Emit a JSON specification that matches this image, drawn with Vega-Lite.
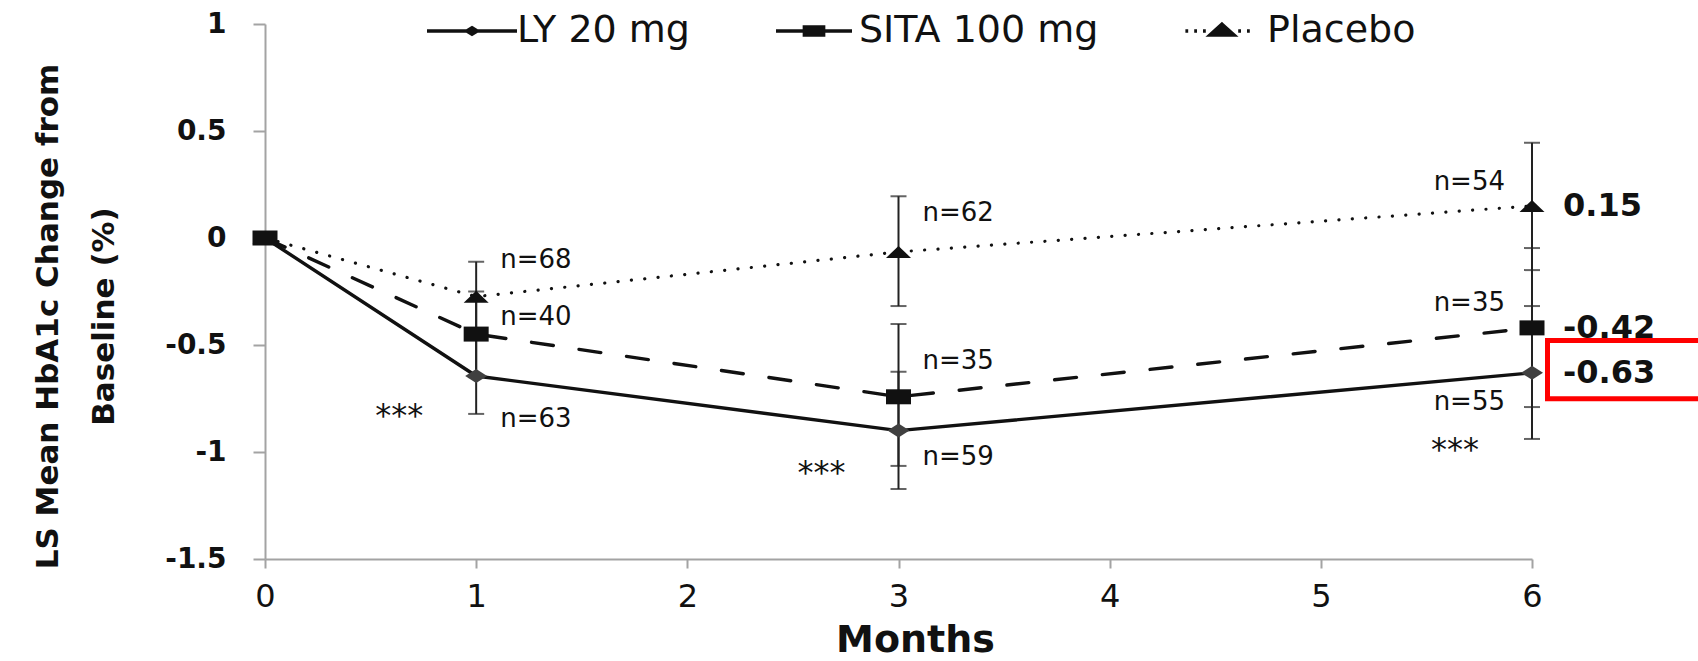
{
  "$schema": "https://vega.github.io/schema/vega-lite/v6.json",
  "autosize": "none",
  "width": 1267,
  "height": 535,
  "padding": {"left": 265, "top": 24, "right": 166, "bottom": 102},
  "background": "white",
  "datasets": {
    "main": [
      {"series": "LY 20 mg", "month": 0, "mean": 0, "lo": null, "hi": null},
      {"series": "LY 20 mg", "month": 1, "mean": -0.645, "lo": -0.822, "hi": -0.47},
      {"series": "LY 20 mg", "month": 3, "mean": -0.9, "lo": -1.173, "hi": -0.625},
      {"series": "LY 20 mg", "month": 6, "mean": -0.63, "lo": -0.939, "hi": -0.318},
      {"series": "Placebo", "month": 0, "mean": 0, "lo": null, "hi": null},
      {"series": "Placebo", "month": 1, "mean": -0.274, "lo": -0.44, "hi": -0.111},
      {"series": "Placebo", "month": 3, "mean": -0.065, "lo": -0.318, "hi": 0.195},
      {"series": "Placebo", "month": 6, "mean": 0.15, "lo": -0.15, "hi": 0.445},
      {"series": "SITA 100 mg", "month": 0, "mean": 0, "lo": null, "hi": null},
      {"series": "SITA 100 mg", "month": 1, "mean": -0.449, "lo": -0.65, "hi": -0.25},
      {"series": "SITA 100 mg", "month": 3, "mean": -0.742, "lo": -1.065, "hi": -0.402},
      {"series": "SITA 100 mg", "month": 6, "mean": -0.42, "lo": -0.79, "hi": -0.047}
    ],
    "notes": [
      {"month": 1, "ly": -0.103, "label": "n=68"},
      {"month": 1, "ly": -0.369, "label": "n=40"},
      {"month": 1, "ly": -0.845, "label": "n=63"},
      {"month": 3, "ly": 0.117, "label": "n=62"},
      {"month": 3, "ly": -0.575, "label": "n=35"},
      {"month": 3, "ly": -1.022, "label": "n=59"},
      {"month": 6, "ly": 0.263, "label": "n=54"},
      {"month": 6, "ly": -0.304, "label": "n=35"},
      {"month": 6, "ly": -0.765, "label": "n=55"}
    ],
    "stars": [
      {"month": 1, "sy": -0.807, "sig": "***"},
      {"month": 3, "sy": -1.075, "sig": "***"},
      {"month": 6, "sy": -0.967, "sig": "***"}
    ]
  },
  "config": {
    "font": "DejaVu Sans",
    "view": {"stroke": null},
    "axis": {
      "grid": false,
      "domainColor": "#a3a3a3",
      "tickColor": "#a3a3a3",
      "domainWidth": 2,
      "tickWidth": 2,
      "labelColor": "#111",
      "titleColor": "#111",
      "labelFont": "DejaVu Sans",
      "titleFont": "DejaVu Sans"
    }
  },
  "encoding": {
    "x": {
      "field": "month", "type": "quantitative",
      "scale": {"domain": [0, 6], "nice": false, "zero": false},
      "axis": {
        "values": [0, 1, 2, 3, 4, 5, 6],
        "title": "Months",
        "labelFontSize": 32,
        "tickSize": 9,
        "labelPadding": 13,
        "labelFlush": false,
        "titleFontSize": 38,
        "titleFontWeight": "bold",
        "titleBaseline": "alphabetic",
        "titleY": 92,
        "titleX": 650
      }
    },
    "y": {
      "type": "quantitative",
      "scale": {"domain": [-1.5, 1], "nice": false, "zero": false},
      "axis": {
        "values": [-1.5, -1, -0.5, 0, 0.5, 1],
        "labelExpr": "'' + datum.value",
        "labelFontSize": 28,
        "labelFontWeight": "bold",
        "tickSize": 12,
        "labelPadding": 27,
        "title": ["LS Mean HbA1c Change from", "Baseline (%)"],
        "titleFontSize": 31,
        "titleFontWeight": "bold",
        "titleX": -232,
        "titleY": 292,
        "titleAlign": "center",
        "titleBaseline": "top",
        "titleLineHeight": 56
      }
    }
  },
  "layer": [
    {
      "data": {"name": "main"},
      "transform": [{"filter": "datum.series === 'LY 20 mg'"}],
      "mark": {"type": "line", "color": "#111", "strokeCap": "round", "strokeWidth": 3.4},
      "encoding": {"y": {"field": "mean", "type": "quantitative"}}
    },
    {
      "data": {"name": "main"},
      "transform": [{"filter": "datum.series === 'SITA 100 mg'"}],
      "mark": {"type": "line", "color": "#111", "strokeCap": "round", "strokeWidth": 3.4, "strokeDash": [22, 26]},
      "encoding": {"y": {"field": "mean", "type": "quantitative"}}
    },
    {
      "data": {"name": "main"},
      "transform": [{"filter": "datum.series === 'Placebo'"}],
      "mark": {"type": "line", "color": "#111", "strokeCap": "round", "strokeWidth": 3.2, "strokeDash": [0.1, 13.3]},
      "encoding": {"y": {"field": "mean", "type": "quantitative"}}
    },
    {
      "data": {"name": "main"},
      "transform": [{"filter": "isValid(datum.lo)"}],
      "mark": {
        "type": "errorbar",
        "ticks": {"size": 16, "thickness": 2, "color": "#222"},
        "rule": {"strokeWidth": 2, "color": "#222"}
      },
      "encoding": {
        "y": {"field": "lo", "type": "quantitative"},
        "y2": {"field": "hi"}
      }
    },
    {
      "data": {"name": "main"},
      "transform": [{"filter": "datum.series === 'LY 20 mg'"}],
      "mark": {"type": "point", "filled": true, "size": 400, "opacity": 1, "strokeWidth": 0, "color": "#404040", "shape": "M0,-0.7L1.1,0L0,0.7L-1.1,0Z"},
      "encoding": {"y": {"field": "mean", "type": "quantitative"}}
    },
    {
      "data": {"name": "main"},
      "transform": [{"filter": "datum.series === 'Placebo'"}],
      "mark": {"type": "point", "filled": true, "size": 400, "opacity": 1, "strokeWidth": 0, "color": "#111", "shape": "M0,-0.6L1.25,0.6L-1.25,0.6Z"},
      "encoding": {"y": {"field": "mean", "type": "quantitative"}}
    },
    {
      "data": {"name": "main"},
      "transform": [{"filter": "datum.series === 'SITA 100 mg'"}],
      "mark": {"type": "point", "filled": true, "size": 400, "opacity": 1, "strokeWidth": 0, "color": "#111", "shape": "M-1.25,-0.75L1.25,-0.75L1.25,0.75L-1.25,0.75Z"},
      "encoding": {"y": {"field": "mean", "type": "quantitative"}}
    },
    {
      "data": {"name": "main"},
      "mark": {"type": "point", "filled": false, "opacity": 0, "color": "#111", "strokeWidth": 3.5},
      "encoding": {
        "y": {"field": "mean", "type": "quantitative"},
        "shape": {
          "field": "series", "type": "nominal",
          "scale": {
            "domain": ["LY 20 mg", "SITA 100 mg", "Placebo"],
            "range": [
              "M-1.125,0L1.125,0M0,-0.08L0.13,0L0,0.08L-0.13,0Z",
              "M-0.95,0L0.95,0M-0.24,-0.1L0.24,-0.1L0.24,0.1L-0.24,0.1ZM-0.24,-0.05L0.24,-0.05M-0.24,0.05L0.24,0.05",
              "M-0.915,0L-0.845,0M-0.695,0L-0.625,0M-0.475,0L-0.405,0M0.405,0L0.475,0M0.625,0L0.695,0M0,-0.17L0.3,0.1L-0.3,0.1ZM-0.22,0.03L0.22,0.03M-0.14,-0.04L0.14,-0.04M-0.07,-0.11L0.07,-0.11"
            ]
          },
          "legend": {
            "title": null,
            "orient": "none",
            "direction": "horizontal",
            "legendX": 165,
            "legendY": -35,
            "padding": 0,
            "symbolSize": 6400,
            "symbolOpacity": 1,
            "symbolStrokeWidth": 3.5,
            "symbolStrokeColor": "#111",
            "labelFontSize": 38,
            "labelFont": "DejaVu Sans",
            "labelColor": "#111",
            "labelOffset": 3,
            "labelLimit": 500,
            "columnPadding": 79
          }
        }
      }
    },
    {
      "data": {"name": "notes"},
      "transform": [{"filter": "datum.month < 6"}],
      "mark": {"type": "text", "align": "left", "baseline": "middle", "dx": 24, "fontSize": 26, "color": "#111", "font": "DejaVu Sans"},
      "encoding": {
        "y": {"field": "ly", "type": "quantitative"},
        "text": {"field": "label"}
      }
    },
    {
      "data": {"name": "notes"},
      "transform": [{"filter": "datum.month == 6"}],
      "mark": {"type": "text", "align": "right", "baseline": "middle", "dx": -27, "fontSize": 26, "color": "#111", "font": "DejaVu Sans"},
      "encoding": {
        "y": {"field": "ly", "type": "quantitative"},
        "text": {"field": "label"}
      }
    },
    {
      "data": {"name": "stars"},
      "mark": {"type": "text", "align": "center", "baseline": "middle", "dx": -77, "dy": 5, "fontSize": 32, "color": "#111", "font": "DejaVu Sans"},
      "encoding": {
        "y": {"field": "sy", "type": "quantitative"},
        "text": {"field": "sig"}
      }
    },
    {
      "data": {"name": "main"},
      "transform": [{"filter": "datum.month == 6"}],
      "mark": {
        "type": "text", "align": "left", "baseline": "middle", "dx": 31,
        "fontSize": 32, "fontWeight": "bold", "color": "#111", "font": "DejaVu Sans",
        "text": {"expr": "replace(format(datum.mean, '.2f'), '\u2212', '-')"}
      },
      "encoding": {
        "y": {"field": "mean", "type": "quantitative"}
      }
    },
    {
      "data": {"name": "main"},
      "transform": [{"filter": "datum.month == 6 && datum.series === 'LY 20 mg'"}],
      "mark": {
        "type": "point", "filled": false, "size": 400, "opacity": 1,
        "shape": "M1.55,-3.23L20,-3.23L20,2.59L1.55,2.59Z",
        "stroke": "#ff0000", "strokeWidth": 5
      },
      "encoding": {
        "y": {"field": "mean", "type": "quantitative"}
      }
    }
  ]
}
